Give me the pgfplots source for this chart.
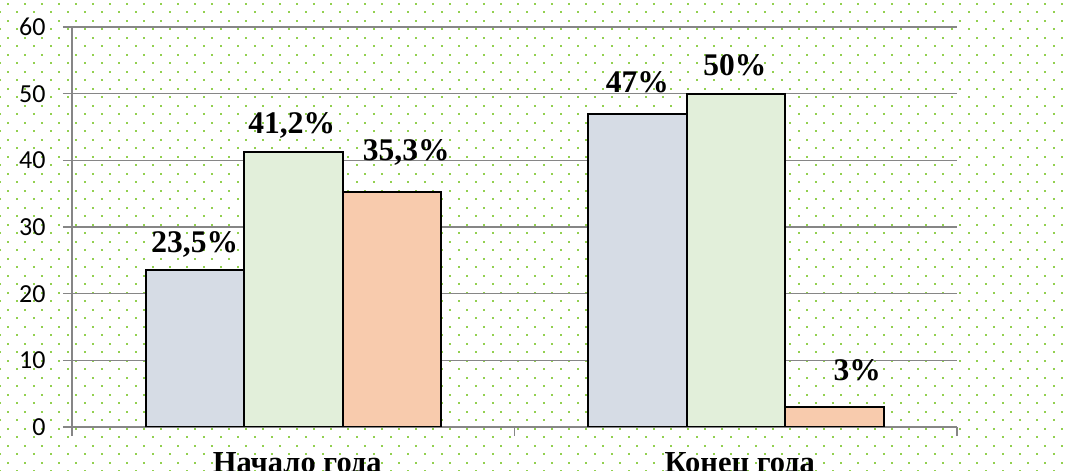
\documentclass[border=0pt]{standalone}
\usepackage{fontspec}
\setmainfont{Liberation Serif}
\newfontfamily\calibri{Carlito}
\usepackage{pgfplots}
\pgfplotsset{compat=1.18}
\usetikzlibrary{patterns}

\definecolor{dotgreen}{RGB}{146,208,80}
\definecolor{gridgray}{RGB}{134,134,134}
\definecolor{barblue}{RGB}{214,220,229}
\definecolor{bargreen}{RGB}{226,239,218}
\definecolor{barpeach}{RGB}{248,203,173}

% Excel-like dotted background
\pgfdeclarepatternformonly{exceldots}{\pgfqpoint{0bp}{0bp}}{\pgfqpoint{8.5bp}{8.5bp}}{\pgfqpoint{8.5bp}{8.5bp}}{%
  \pgfpathrectangle{\pgfqpoint{0bp}{0bp}}{\pgfqpoint{1bp}{1bp}}%
  \pgfpathrectangle{\pgfqpoint{4.25bp}{4.25bp}}{\pgfqpoint{1bp}{1bp}}%
  \pgfusepath{fill}}

\newcommand{\lblfont}{\fontsize{15.75bp}{18bp}\selectfont\bfseries}
\newcommand{\catfont}{\fontsize{15.25bp}{18bp}\selectfont\bfseries}
\newcommand{\tickfont}{\calibri\fontsize{13bp}{15bp}\selectfont}

\begin{document}
\begin{tikzpicture}
\useasboundingbox (0,0) rectangle (535bp,235.5bp);
\clip (0,0) rectangle (535bp,235.5bp);
\fill[white] (0,0) rectangle (535bp,235.5bp);
\fill[pattern=exceldots, pattern color=dotgreen] (0,0) rectangle (535bp,235.5bp);
\begin{axis}[
    at={(36bp,22bp)}, anchor=south west,
    scale only axis, width=442.5bp, height=200bp,
    ybar=0pt, bar width=49.25bp,
    xmin=-0.5, xmax=1.5, ymin=0, ymax=60,
    xtick={-0.5,0.5,1.5}, x tick label as interval,
    xticklabels={Начало года,Конец года},
    ytick={0,10,...,60},
    yticklabels={0,10,20,30,40,50,60},
    axis x line=bottom, axis y line=left,
    axis line style={-, draw=gridgray, line width=0.75bp},
    tick align=outside, major tick length=4.5bp,
    tick style={draw=gridgray, line width=0.75bp},
    ymajorgrids, grid style={draw=gridgray, line width=0.75bp},
    every y tick label/.append style={font=\tickfont, anchor=east, inner sep=0pt},
    yticklabel shift=8.5bp,
    xticklabel style={font=\catfont, anchor=base, inner sep=0pt, yshift=-18bp, xshift=2bp},
    point meta=explicit symbolic,
    nodes near coords={\pgfplotspointmeta\%},
    every node near coord/.append style={font=\lblfont, anchor=base, inner sep=0pt,
        xshift=\dx bp, yshift=\dy bp},
]
\addplot[draw=black, line width=1bp, fill=barblue,
    visualization depends on={value \thisrow{dx} \as \dx},
    visualization depends on={value \thisrow{dy} \as \dy}]
    table[x=x, y=y, meta=lab] {
x y lab dx dy
0 23.5 23,5 0 9
1 47 47 0 10.5
};
\addplot[draw=black, line width=1bp, fill=bargreen,
    visualization depends on={value \thisrow{dx} \as \dx},
    visualization depends on={value \thisrow{dy} \as \dy}]
    table[x=x, y=y, meta=lab] {
x y lab dx dy
0 41.2 41,2 -0.75 9.5
1 50 50 -0.5 9
};
\addplot[draw=black, line width=1bp, fill=barpeach,
    visualization depends on={value \thisrow{dx} \as \dx},
    visualization depends on={value \thisrow{dy} \as \dy}]
    table[x=x, y=y, meta=lab] {
x y lab dx dy
0 35.3 35,3 7.25 15.5
1 3 3 11.5 13.5
};
\end{axis}
\end{tikzpicture}
\end{document}
